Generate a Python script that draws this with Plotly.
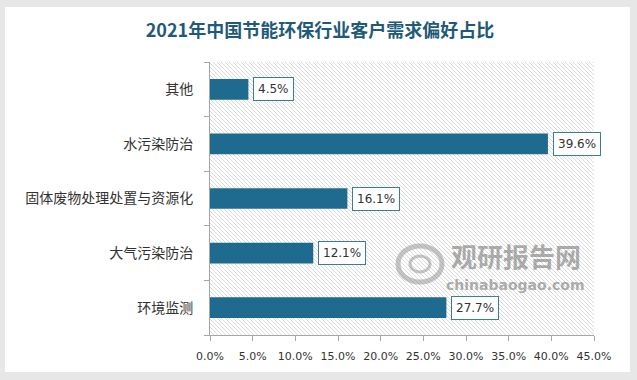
import plotly.graph_objects as go

# ---- data ----
categories = ["其他", "水污染防治", "固体废物处理处置与资源化", "大气污染防治", "环境监测"]
values = [4.5, 39.6, 16.1, 12.1, 27.7]
x_ticks = [0, 5, 10, 15, 20, 25, 30, 35, 40, 45]
title_text = "2021年中国节能环保行业客户需求偏好占比"

# ---- layout geometry (pixels) ----
W, H = 637, 380
L, R, T, B = 210, 43, 62, 45
PW, PH = W - L - R, H - T - B


def px(x):
    return (x - L) / PW


def py(y):
    return (H - B - y) / PH


BAR_COLOR = "#1e6b8f"
fig = go.Figure()
fig.add_trace(go.Bar(
    y=categories, x=values, orientation="h",
    marker=dict(color=BAR_COLOR, line=dict(width=0)),
    hoverinfo="skip", showlegend=False,
))

# data labels
for c, v in zip(categories, values):
    fig.add_annotation(
        x=v, y=c, xref="x", yref="y", text=f"{v:.1f}%",
        showarrow=False, xanchor="left", yanchor="middle", xshift=5,
        font=dict(family="DejaVu Sans", size=12, color="#333333"),
        bgcolor="white", bordercolor="#3a7e9c", borderwidth=1, borderpad=4,
    )

shapes = []
# hatch background of plot area ("\" diagonal lines)
step = 4
path = []
c = -PH
while c < PW:
    yd0 = max(0, -c)
    yd1 = min(PH, PW - c)
    if yd1 > yd0:
        x0p, x1p = L + c + yd0, L + c + yd1
        y0p, y1p = T + yd0, T + yd1
        path.append(f"M{px(x0p):.5f},{py(y0p):.5f}L{px(x1p):.5f},{py(y1p):.5f}")
    c += step
shapes.append(dict(type="path", xref="paper", yref="paper", path="".join(path),
                   line=dict(color="#dadada", width=1), layer="below"))

# gray outer frame around the white card
FRAME = "#e7e7e7"
for (x0, y0, x1, y1) in [(0, 0, W, 7), (0, 372, W, H), (0, 0, 5, H), (630, 0, W, H)]:
    shapes.append(dict(type="rect", xref="paper", yref="paper",
                       x0=px(x0), x1=px(x1), y0=py(y1), y1=py(y0),
                       fillcolor=FRAME, line=dict(width=0), layer="below"))

# watermark logo (approximate swirl)
WM = "rgba(150,150,150,0.55)"
shapes.append(dict(type="circle", xref="paper", yref="paper",
                   x0=px(398), x1=px(442), y0=py(282), y1=py(246),
                   line=dict(color=WM, width=5), layer="above"))
shapes.append(dict(type="circle", xref="paper", yref="paper",
                   x0=px(410), x1=px(430), y0=py(272), y1=py(256),
                   line=dict(color=WM, width=3), layer="above"))

# watermark text
fig.add_annotation(x=px(516), y=py(256), xref="paper", yref="paper", text="<b>观研报告网</b>",
                   showarrow=False, xanchor="center", yanchor="middle",
                   font=dict(family="Noto Sans CJK SC", size=26,
                             color="rgba(120,120,120,0.6)"))
fig.add_annotation(x=px(515), y=py(285), xref="paper", yref="paper", text="<b>chinabaogao.com</b>",
                   showarrow=False, xanchor="center", yanchor="middle",
                   font=dict(family="DejaVu Sans", size=14,
                             color="rgba(120,120,120,0.6)"))

fig.update_layout(
    width=W, height=H,
    margin=dict(l=L, r=R, t=T, b=B, pad=0),
    paper_bgcolor="white", plot_bgcolor="rgba(0,0,0,0)",
    bargap=0.62,
    title=dict(text=f"<b>{title_text}</b>", x=px(320), xanchor="center",
               y=1 - 31 / H, yanchor="middle", xref="paper",
               font=dict(family="Noto Sans CJK SC", size=18, color="#1f5a78")),
    shapes=shapes,
    xaxis=dict(range=[0, 45], tickvals=x_ticks,
               ticktext=[f"{t:.1f}%" for t in x_ticks],
               showgrid=False, zeroline=False, showline=True, linecolor="#a6a6a6",
               linewidth=1, ticks="outside", ticklen=5, tickcolor="#a6a6a6",
               tickfont=dict(family="DejaVu Sans", size=11, color="#333333"),
               ticklabelstandoff=6, fixedrange=True),
    yaxis=dict(categoryorder="array", categoryarray=categories[::-1],
               showgrid=False, zeroline=False, showline=True, linecolor="#a6a6a6",
               linewidth=1, ticks="outside", ticklen=5, tickcolor="#a6a6a6",
               tickson="boundaries",
               tickfont=dict(family="Noto Sans CJK SC", size=14, color="#333333"),
               ticklabelstandoff=13, fixedrange=True),
)

fig.write_html("out.html", config={"displayModeBar": False},
               post_script="document.body.style.margin='0';")
